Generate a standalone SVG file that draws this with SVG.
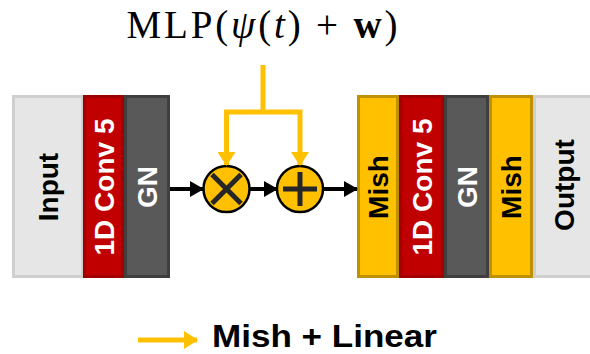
<svg xmlns="http://www.w3.org/2000/svg" width="590" height="354" viewBox="0 0 590 354">
  <style>
    .lbl { font-family: "Liberation Sans", Arial, sans-serif; font-weight: bold; font-size: 28px; text-anchor: middle; }
    .dark { fill: #000000; }
    .light { fill: #FFFFFF; }
    .inout { fill: #E7E6E6; stroke: #D0CECE; stroke-width: 3; }
    .conv { fill: #C00000; stroke: #A00000; stroke-width: 3; }
    .gn { fill: #595959; stroke: #3F3F3F; stroke-width: 3; }
    .mish { fill: #FFC000; stroke: #BF9000; stroke-width: 3; }
    .blk { fill: none; stroke: #000000; stroke-width: 4; }
    .org { fill: none; stroke: #FFC000; stroke-width: 5; }
    .op { fill: #FFC000; stroke: #000000; stroke-width: 2.5; }
    .sym { stroke: #262626; stroke-width: 5; }
  </style>
  <defs>
    <marker id="ab" markerUnits="userSpaceOnUse" markerWidth="14" markerHeight="16" refX="13" refY="8" orient="auto">
      <path d="M0,0 L14,8 L0,16 Z" fill="#000000"/>
    </marker>
    <marker id="ao" markerUnits="userSpaceOnUse" markerWidth="14" markerHeight="18" refX="13" refY="9" orient="auto">
      <path d="M0,0 L14,9 L0,18 Z" fill="#FFC000"/>
    </marker>
  </defs>

  <text x="262" y="38" font-family="'Liberation Serif', 'Times New Roman', serif" font-size="39" text-anchor="middle" textLength="271" lengthAdjust="spacing" fill="#000000">MLP(<tspan font-style="italic">ψ</tspan>(<tspan font-style="italic">t</tspan>) + <tspan font-weight="bold">w</tspan>)</text>

  <g id="input">
    <rect class="inout" x="13.5" y="96.5" width="69" height="180"/>
    <text class="lbl dark" x="48" y="187" dy="10" transform="rotate(-90 48 187)">Input</text>
  </g>
  <g id="conv1">
    <rect class="conv" x="84.5" y="96.5" width="38" height="180"/>
    <text class="lbl light" x="104" y="187" dy="10" transform="rotate(-90 104 187)">1D Conv 5</text>
  </g>
  <g id="gn1">
    <rect class="gn" x="125.5" y="96.5" width="43" height="180"/>
    <text class="lbl light" x="147" y="187" dy="10" transform="rotate(-90 147 187)">GN</text>
  </g>

  <g id="mul">
    <circle class="op" cx="226.5" cy="189" r="23"/>
    <line class="sym" x1="212" y1="174.5" x2="241" y2="203.5"/>
    <line class="sym" x1="241" y1="174.5" x2="212" y2="203.5"/>
  </g>
  <g id="add">
    <circle class="op" cx="300" cy="189" r="23"/>
    <line class="sym" x1="283" y1="189" x2="317" y2="189" stroke-width="6"/>
    <line class="sym" x1="300" y1="172" x2="300" y2="206" stroke-width="6"/>
  </g>

  <g id="mish1">
    <rect class="mish" x="358.5" y="96.5" width="39" height="180"/>
    <text class="lbl dark" x="378" y="187" dy="10" transform="rotate(-90 378 187)">Mish</text>
  </g>
  <g id="conv2">
    <rect class="conv" x="400.5" y="96.5" width="42" height="180"/>
    <text class="lbl light" x="422" y="187" dy="10" transform="rotate(-90 422 187)">1D Conv 5</text>
  </g>
  <g id="gn2">
    <rect class="gn" x="445.5" y="96.5" width="42" height="180"/>
    <text class="lbl light" x="467" y="187" dy="10" transform="rotate(-90 467 187)">GN</text>
  </g>
  <g id="mish2">
    <rect class="mish" x="490.5" y="96.5" width="41" height="180"/>
    <text class="lbl dark" x="511" y="187" dy="10" transform="rotate(-90 511 187)">Mish</text>
  </g>
  <g id="output">
    <rect class="inout" x="534.5" y="96.5" width="60" height="180"/>
    <text class="lbl dark" x="564" y="185" dy="10" transform="rotate(-90 564 185)">Output</text>
  </g>

  <g id="connectors">
    <line class="blk" x1="170" y1="189" x2="203" y2="189" marker-end="url(#ab)"/>
    <line class="blk" x1="250" y1="189" x2="277" y2="189" marker-end="url(#ab)"/>
    <line class="blk" x1="323" y1="189" x2="357" y2="189" marker-end="url(#ab)"/>
    <line class="org" x1="263" y1="65" x2="263" y2="112"/>
    <path class="org" d="M226.5,165 V112 H300 V165" marker-end="url(#ao)"/>
    <line class="org" x1="226.5" y1="112" x2="226.5" y2="165" marker-end="url(#ao)"/>
  </g>

  <g id="legend">
    <line class="org" x1="138" y1="340" x2="197" y2="340" marker-end="url(#ao)"/>
    <text x="212" y="347" font-family="'Liberation Sans', Arial, sans-serif" font-weight="bold" font-size="32" textLength="225" lengthAdjust="spacingAndGlyphs" fill="#000000">Mish + Linear</text>
  </g>
</svg>
